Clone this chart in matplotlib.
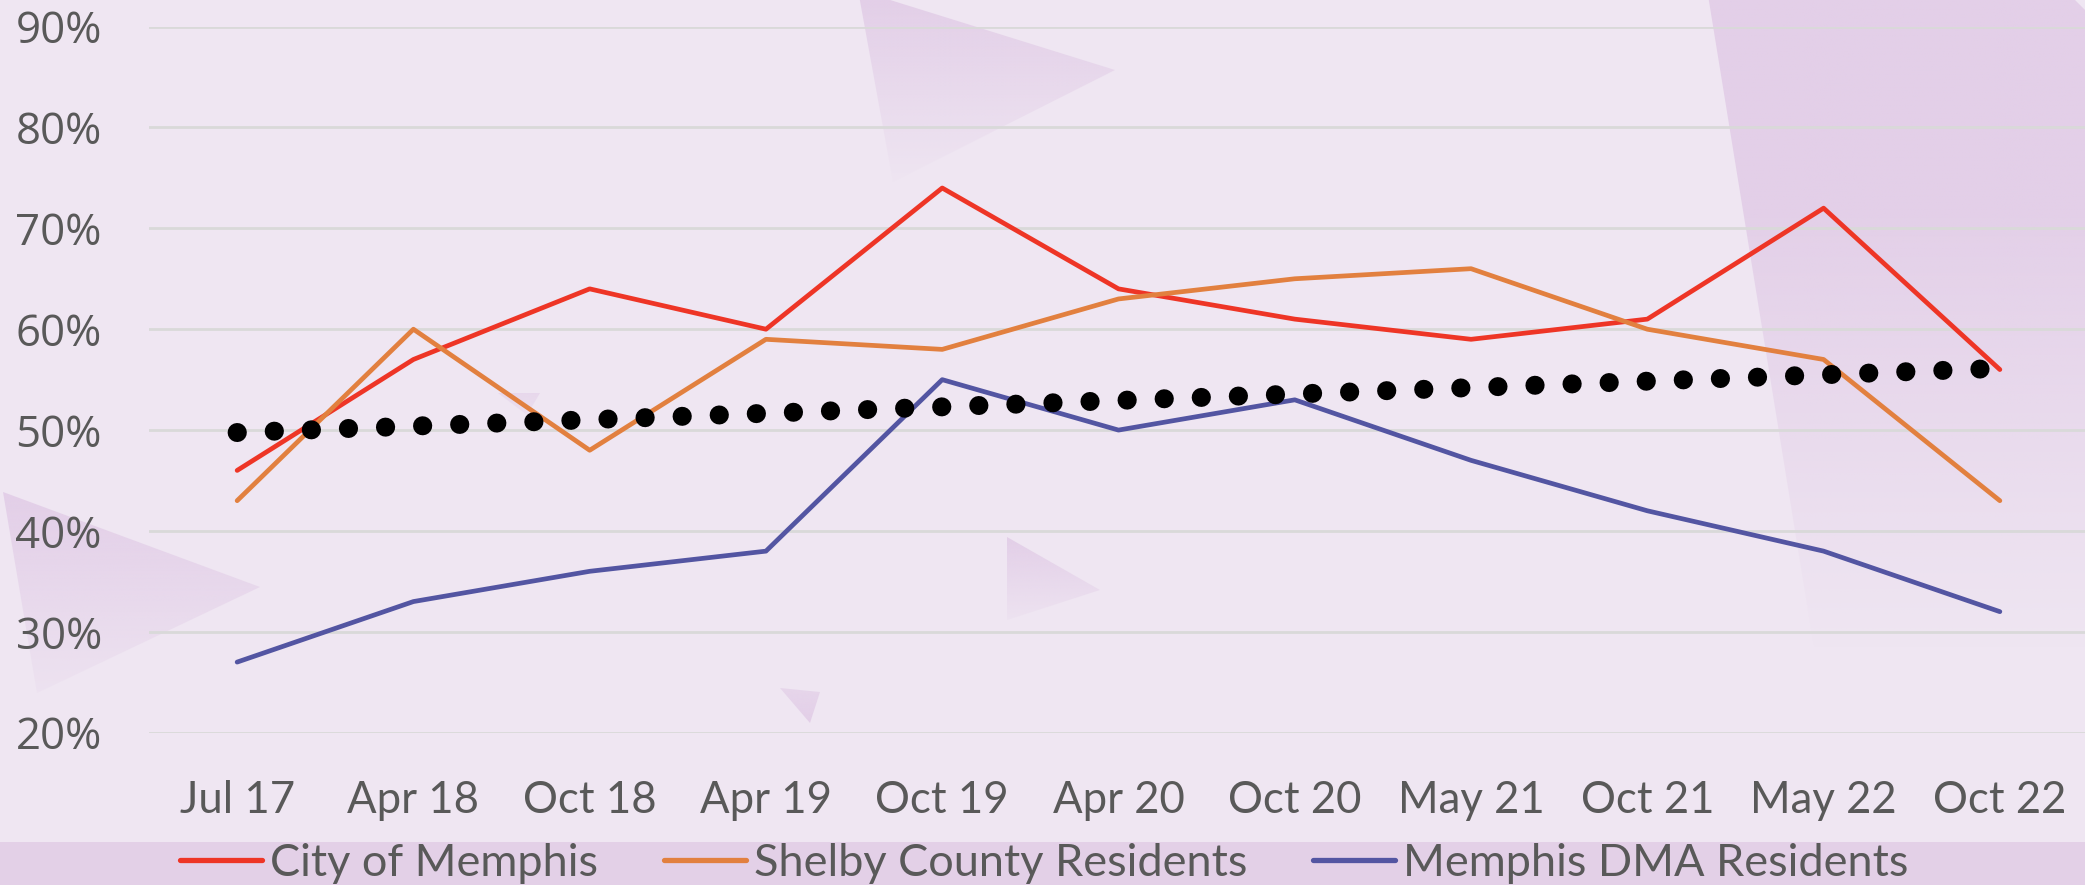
import numpy as np
import matplotlib
matplotlib.use("Agg")
import matplotlib.pyplot as plt
from matplotlib.patches import Polygon, Rectangle
from matplotlib.colors import to_rgb
from matplotlib.lines import Line2D

# ---------------- data ----------------
categories = ["Jul 17", "Apr 18", "Oct 18", "Apr 19", "Oct 19", "Apr 20",
              "Oct 20", "May 21", "Oct 21", "May 22", "Oct 22"]
city_of_memphis = [46, 57, 64, 60, 74, 64, 61, 59, 61, 72, 56]
shelby_county = [43, 60, 48, 59, 58, 63, 65, 66, 60, 57, 43]
memphis_dma = [27, 33, 36, 38, 55, 50, 53, 47, 42, 38, 32]
series_names = ["City of Memphis", "Shelby County Residents", "Memphis DMA Residents"]
y_ticks = [20, 30, 40, 50, 60, 70, 80, 90]

# ---------------- style ----------------
BG = "#EFE6F2"
SHAPE = "#E3CFE8"
BAND = "#E3D0E7"
GRID = "#D9D9D9"
TXT = "#595959"
colors = ["#EE3526", "#E2803F", "#5355A2"]
cat_font = ["Lato", "DejaVu Sans"]

W, H = 2085, 885
fig = plt.figure(figsize=(W / 100, H / 100), dpi=100)
fig.patch.set_facecolor(BG)

# background decoration axes (pixel coordinates)
bg = fig.add_axes([0, 0, 1, 1], zorder=0)
bg.set_axis_off()
bg.set_xlim(0, W)
bg.set_ylim(H, 0)


def grad_poly(ax, verts, y0, y1, a0, a1, color):
    poly = Polygon(verts, closed=True, facecolor="none", edgecolor="none")
    ax.add_patch(poly)
    xs = [v[0] for v in verts]
    ys = [v[1] for v in verts]
    xmin, xmax, ymin, ymax = min(xs), max(xs), min(ys), max(ys)
    n = 256
    yy = np.linspace(ymin, ymax, n)
    alpha = np.interp(yy, [y0, y1], [a0, a1])
    img = np.zeros((n, 2, 4))
    img[..., :3] = to_rgb(color)
    img[..., 3] = alpha[:, None]
    im = ax.imshow(img, extent=(xmin, xmax, ymax, ymin), origin="upper",
                   aspect="auto", interpolation="bilinear")
    im.set_clip_path(poly)


grad_poly(bg, [(858, -10), (1115, 70), (893, 182)], 0, 190, 1.0, 0.0, SHAPE)
grad_poly(bg, [(3, 492), (260, 587), (37, 693)], 492, 720, 1.0, 0.05, SHAPE)
grad_poly(bg, [(1007, 537), (1100, 590), (1007, 620)], 537, 625, 1.0, 0.1, SHAPE)
grad_poly(bg, [(780, 688), (820, 692), (810, 723)], 688, 723, 0.7, 1.0, SHAPE)
grad_poly(bg, [(498, 393), (540, 393), (527, 415)], 393, 415, 0.6, 0.3, SHAPE)
grad_poly(bg, [(1708, -5), (2070, -5), (2090, 15), (2090, 660), (1816, 660)],
          200, 650, 1.0, 0.0, SHAPE)
bg.add_patch(Rectangle((0, 842), W, 50, facecolor=BAND, edgecolor="none"))
bg.set_xlim(0, W)
bg.set_ylim(H, 0)

# ---------------- main chart ----------------
ax = fig.add_axes([149 / W, 1 - 732.7 / H, (2088 - 149) / W, (732.7 - 26.6) / H], zorder=1)
ax.set_facecolor("none")
x = np.arange(len(categories))

for vals, c, name in zip([city_of_memphis, shelby_county, memphis_dma], colors, series_names):
    ax.plot(x, vals, color=c, lw=3.4, solid_capstyle="round", solid_joinstyle="round",
            label=name, zorder=3)

avg = np.mean([city_of_memphis, shelby_county, memphis_dma], axis=0)
coef = np.polyfit(x, avg, 1)
trend = np.polyval(coef, x)
ax.plot(x, trend, color="black", lw=13.7, linestyle=(0, (0.01, 1.94)),
        dash_capstyle="round", zorder=4)

ax.set_xlim(-0.5, len(categories) - 0.5)
ax.set_ylim(20, 90)
ax.set_yticks(y_ticks)
ax.set_yticklabels([f"{v}%" for v in y_ticks], fontfamily=["Open Sans", "DejaVu Sans"],
                   fontsize=31.5, color=TXT)
ax.set_xticks(x)
ax.set_xticklabels(categories, fontfamily=cat_font, fontsize=31.5, color=TXT)
ax.tick_params(axis="y", length=0, pad=34)
ax.tick_params(axis="x", length=0, pad=34)
ax.grid(axis="y", color=GRID, lw=2.0, zorder=0)
ax.set_axisbelow(True)
for s in ax.spines.values():
    s.set_visible(False)

handles = [Line2D([], [], color=c, lw=3.8, solid_capstyle="round") for c in colors]
leg = fig.legend(handles, series_names, loc="center left",
                 bbox_to_anchor=(180 / W, 1 - 863 / H), ncol=3, frameon=False,
                 prop={"family": cat_font, "size": 32.5}, handlelength=1.82,
                 handletextpad=0.18, columnspacing=1.45, borderpad=0, borderaxespad=0)
for t in leg.get_texts():
    t.set_color(TXT)

fig.savefig("out.png", dpi=100, facecolor=BG)
